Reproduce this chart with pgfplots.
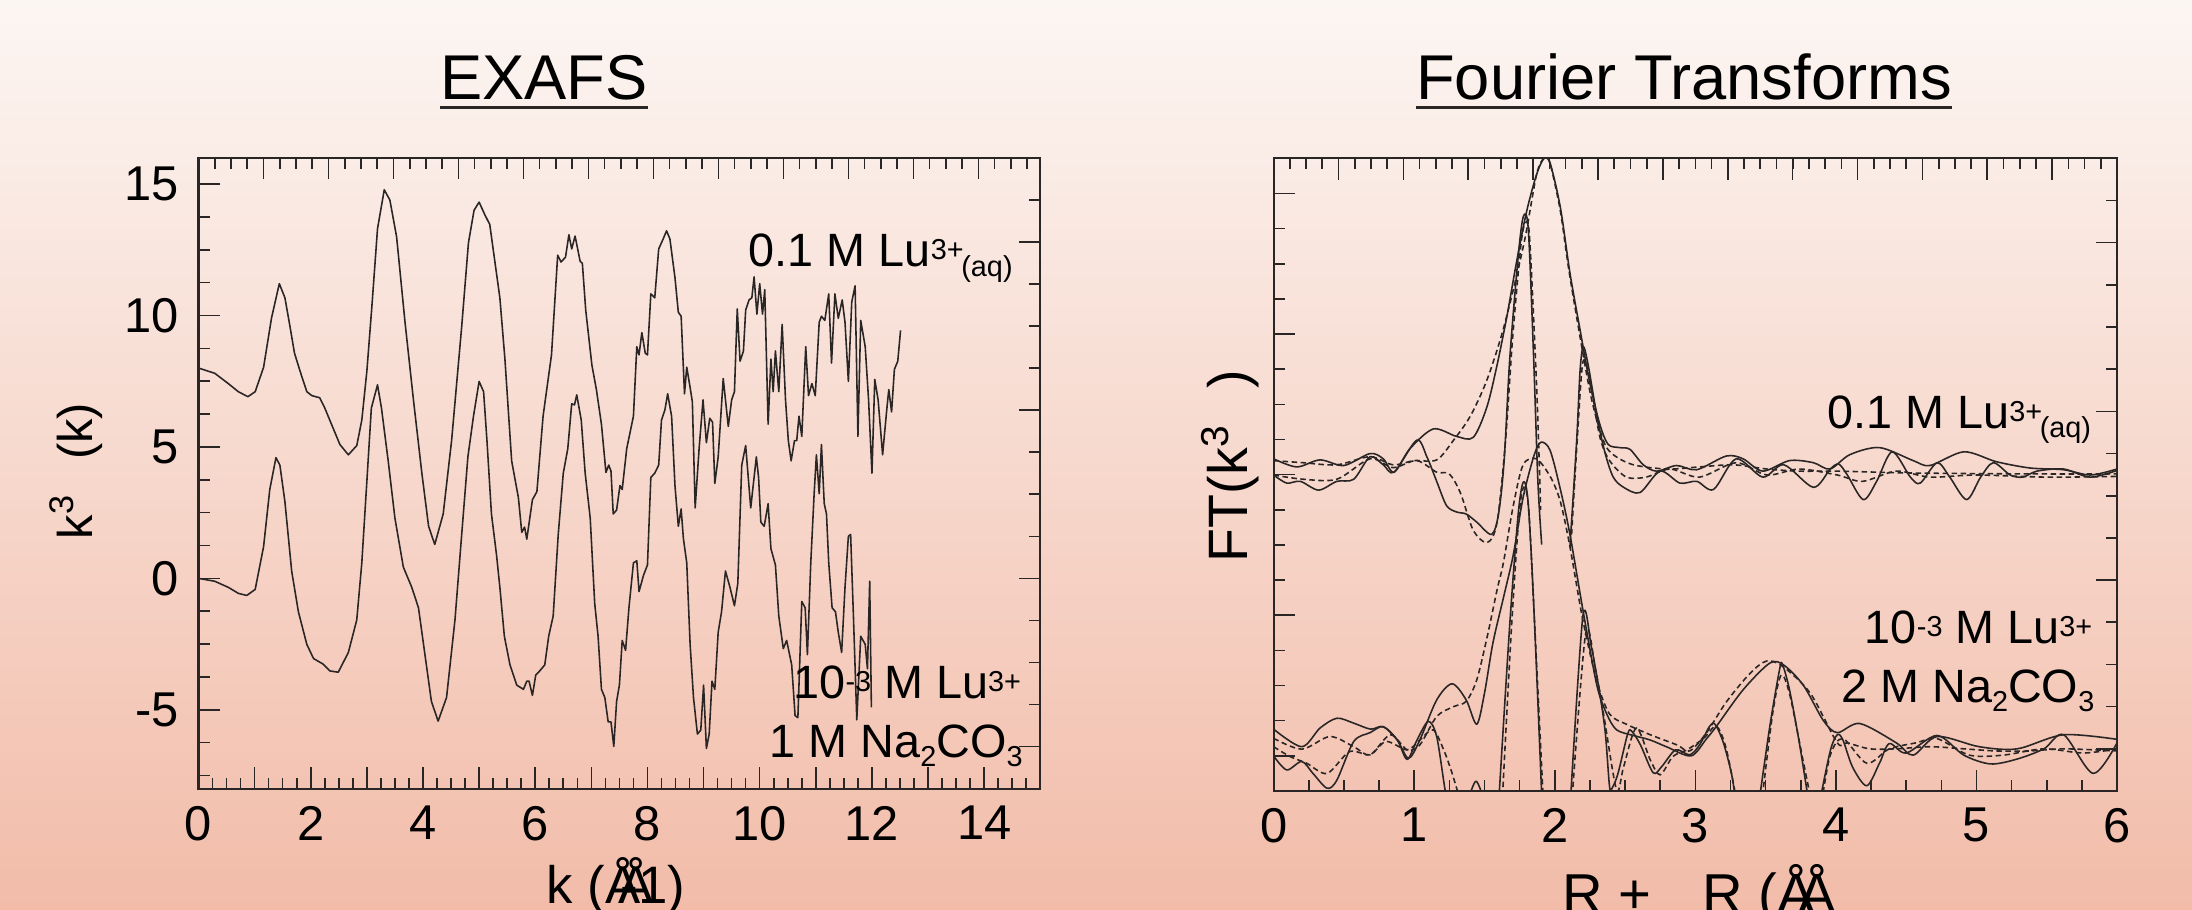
\documentclass[border=0pt]{standalone}
\usepackage{pgfplots}
\pgfplotsset{compat=1.18}
\usepackage{fontspec}
\setmainfont{Liberation Sans}
\definecolor{bgtop}{HTML}{FCF6F3}
\definecolor{bgbot}{HTML}{F2BCA9}
\definecolor{ink}{HTML}{2A2626}
\newcommand{\annfont}{\fontsize{13.3}{16}\selectfont}
\newcommand{\ssf}{\fontsize{8.2}{10}\selectfont}
\newcommand{\sups}[1]{\raisebox{0.07cm}{\ssf #1}}
\newcommand{\subs}[1]{\raisebox{-0.094cm}{\ssf #1}}
\pgfplotsset{
  frame/.style={scale only axis, anchor=south west, tick align=inside,
    axis line style={ink, line width=0.6pt},
    every tick/.style={ink, line width=0.45pt},
    major tick length=0.215cm, minor tick length=0.11cm,
    ticklabel style={font=\fontsize{13.9}{16}\selectfont, text=black},
    /pgf/number format/assume math mode=true},
  dat/.style={ink, line width=0.45pt, line join=round, no markers},
  fit/.style={ink, line width=0.45pt, no markers, dash pattern=on 0.055cm off 0.035cm},
}
\begin{document}
\begin{tikzpicture}
\shade[top color=bgtop, bottom color=bgbot] (0,0) rectangle (21.92,9.09);

% ---------------- EXAFS ----------------
\begin{axis}[frame, at={(1.985cm,1.203cm)}, width=8.418cm, height=6.31cm,
  xmin=0, xmax=15, ymin=-8, ymax=16,
  xtick={0,1,...,15}, xticklabels={0,,2,,4,,6,,8,,10,,12,,14,},
  minor xtick={0,0.25,...,15},
  ytick={-5,0,5,10,15}, yticklabels={-5,0,5,10,15},
  minor ytick={-7.5,-6.25,...,15},
  xtick pos=bottom, ytick pos=left,
  xticklabel style={yshift=-0.05cm}, yticklabel style={xshift=-0.07cm}]
\addplot[dat] coordinates {(0,8.0) (0.29,7.8) (0.53,7.41) (0.71,7.1) (0.88,6.91) (1.01,7.1) (1.16,8.03) (1.30,9.89) (1.44,11.21) (1.54,10.67) (1.63,9.58) (1.71,8.57) (1.81,7.88) (1.93,7.1) (2.02,6.95) (2.16,6.87) (2.25,6.48) (2.37,5.86) (2.52,5.09) (2.67,4.70) (2.82,5.05) (2.91,6.02) (3.0,7.88) (3.09,10.36) (3.19,13.30) (3.31,14.78) (3.41,14.39) (3.53,12.99) (3.68,9.74) (3.83,6.79) (3.98,4.0) (4.10,1.98) (4.21,1.29) (4.36,2.45) (4.51,5.24) (4.69,9.58) (4.81,12.76) (4.91,14.0) (5.0,14.31) (5.10,13.84) (5.19,13.46) (5.28,12.06) (5.37,10.67) (5.46,8.34) (5.58,4.47) (5.70,3.07) (5.76,1.75) (5.81,1.95) (5.85,1.49) (5.95,2.99) (6.03,3.30) (6.14,6.17) (6.29,8.50) (6.40,12.29) (6.46,12.03) (6.54,12.22) (6.60,13.07) (6.65,12.53) (6.71,13.02) (6.80,12.06) (6.84,11.98) (6.90,10.20) (7.01,8.11) (7.09,7.18) (7.18,5.86) (7.26,4.03) (7.31,4.31) (7.35,4.08) (7.39,2.45) (7.45,2.60) (7.51,3.53) (7.55,3.38) (7.63,4.93) (7.75,6.17) (7.81,8.81) (7.85,8.50) (7.90,9.35) (7.96,8.57) (8.00,8.50) (8.06,10.82) (8.13,10.67) (8.20,12.53) (8.28,12.91) (8.34,13.22) (8.40,12.91) (8.49,11.44) (8.55,10.12) (8.60,9.97) (8.66,7.02) (8.70,8.03) (8.76,7.26) (8.80,6.71) (8.85,2.68) (8.92,4.93) (8.99,6.79) (9.05,5.16) (9.11,6.09) (9.16,5.94) (9.20,3.61) (9.26,4.62) (9.35,7.60) (9.44,5.78) (9.50,6.79) (9.55,7.10) (9.60,10.25) (9.65,8.26) (9.71,8.65) (9.75,10.20) (9.81,10.59) (9.86,10.67) (9.90,11.47) (9.95,10.05) (10.0,11.21) (10.05,10.05) (10.09,10.98) (10.15,5.86) (10.20,8.34) (10.24,7.10) (10.28,8.65) (10.34,7.10) (10.40,9.66) (10.46,6.79) (10.51,5.24) (10.56,4.47) (10.62,5.24) (10.66,5.24) (10.70,6.17) (10.75,5.40) (10.82,8.81) (10.87,6.95) (10.93,7.41) (10.99,6.95) (11.06,9.74) (11.10,9.97) (11.16,9.81) (11.23,10.82) (11.28,8.19) (11.34,10.82) (11.40,9.89) (11.47,10.59) (11.52,9.74) (11.58,7.49) (11.64,10.51) (11.70,11.13) (11.75,5.40) (11.80,9.81) (11.88,8.81) (11.94,6.79) (12.0,4.0) (12.05,7.57) (12.11,6.79) (12.19,4.70) (12.26,6.33) (12.30,7.18) (12.35,6.33) (12.40,7.95) (12.46,8.26) (12.51,9.43)};
\addplot[dat] coordinates {(0,0) (0.29,-0.11) (0.53,-0.34) (0.71,-0.57) (0.86,-0.65) (1.01,-0.42) (1.16,1.21) (1.27,3.38) (1.38,4.59) (1.45,4.31) (1.54,2.91) (1.66,0.28) (1.78,-1.27) (1.93,-2.51) (2.05,-3.05) (2.22,-3.26) (2.34,-3.52) (2.49,-3.57) (2.67,-2.82) (2.82,-1.58) (2.91,0.59) (3.0,3.69) (3.08,6.48) (3.19,7.36) (3.26,6.48) (3.38,4.47) (3.50,2.29) (3.65,0.43) (3.80,-0.34) (3.92,-1.12) (4.04,-2.98) (4.15,-4.68) (4.27,-5.43) (4.42,-4.53) (4.57,-1.58) (4.69,1.67) (4.80,4.62) (4.90,6.17) (5.0,7.49) (5.08,7.10) (5.14,5.24) (5.22,2.45) (5.31,0.90) (5.37,-0.34) (5.45,-2.20) (5.55,-3.29) (5.67,-4.06) (5.79,-4.22) (5.85,-3.91) (5.89,-3.91) (5.95,-4.45) (6.01,-3.67) (6.08,-3.52) (6.17,-3.29) (6.24,-2.20) (6.32,-1.43) (6.41,1.67) (6.50,4.0) (6.58,4.93) (6.65,6.64) (6.70,6.60) (6.74,6.98) (6.82,6.02) (6.89,4.0) (6.98,2.29) (7.06,-0.96) (7.12,-2.20) (7.18,-4.22) (7.24,-4.53) (7.30,-5.46) (7.35,-5.46) (7.40,-6.39) (7.45,-4.68) (7.50,-4.06) (7.55,-2.36) (7.61,-2.74) (7.67,-1.12) (7.75,0.59) (7.81,0.67) (7.85,-0.50) (7.93,0.12) (8.00,0.51) (8.06,3.84) (8.13,4.0) (8.20,4.31) (8.25,6.02) (8.31,6.40) (8.36,7.02) (8.43,6.17) (8.49,3.53) (8.55,1.98) (8.60,2.64) (8.64,1.52) (8.70,0.59) (8.76,-2.51) (8.82,-4.53) (8.89,-5.92) (8.95,-5.77) (9.0,-4.06) (9.05,-6.47) (9.10,-5.92) (9.15,-3.91) (9.20,-4.22) (9.26,-2.05) (9.32,-1.27) (9.39,0.28) (9.47,-0.34) (9.55,-1.04) (9.61,-0.19) (9.68,4.31) (9.75,5.05) (9.84,2.68) (9.94,4.62) (9.98,3.84) (10.02,2.14) (10.08,1.98) (10.15,2.84) (10.20,1.13) (10.28,0.51) (10.34,-1.43) (10.42,-2.67) (10.48,-2.36) (10.57,-3.29) (10.63,-5.22) (10.68,-5.30) (10.75,-0.88) (10.81,-1.12) (10.85,-2.90) (10.91,0.59) (10.97,3.22) (11.01,4.70) (11.06,3.22) (11.10,5.09) (11.15,2.84) (11.19,2.45) (11.23,0.59) (11.29,-1.12) (11.35,-1.27) (11.40,-2.05) (11.46,-2.82) (11.52,-0.34) (11.58,1.60) (11.62,1.67) (11.67,-1.43) (11.73,-5.38) (11.80,-2.20) (11.88,-2.51) (11.92,-3.44) (11.96,-0.11) (11.99,-4.91)};
\end{axis}
\begin{axis}[frame, at={(1.985cm,1.203cm)}, width=8.418cm, height=6.31cm,
  xmin=0, xmax=15, ymin=-8, ymax=16,
  xtick={0,1.158,2.316,3.474,4.632,5.79,6.948,8.106,9.264,10.422,11.58,12.738,13.896},
  minor xtick={0,0.2895,...,15},
  ytick={-6.4,0,6.4,12.8}, minor ytick={-6.4,-4.8,...,15},
  xticklabels={}, yticklabels={}, xtick pos=top, ytick pos=right]
\end{axis}

% ---------------- Fourier transforms ----------------
\begin{axis}[frame, at={(12.736cm,1.18cm)}, width=8.434cm, height=6.327cm,
  xmin=0, xmax=6, ymin=0, ymax=18,
  xtick={0,1,...,6}, xticklabels={0,1,2,3,4,5,6}, minor xtick={0,0.25,...,6},
  ytick={1,5,9,13,17}, yticklabels={}, minor ytick={0,1,...,18},
  xtick pos=bottom, ytick pos=left, xticklabel style={yshift=-0.045cm},
  unbounded coords=jump]
% upper sample: magnitude
\addplot[dat, smooth, tension=0.5] coordinates {(0,9.45) (0.164,9.22) (0.33,9.42) (0.50,9.26) (0.686,9.60) (0.78,9.45) (0.857,9.07) (0.97,9.74) (1.136,10.30) (1.30,10.09) (1.42,10.06) (1.516,10.91) (1.587,12.07) (1.658,13.47) (1.73,15.09) (1.80,16.49) (1.87,17.53) (1.924,18.0) (1.966,17.88) (2.04,16.6) (2.108,14.74) (2.18,13.12) (2.25,11.6) (2.32,10.44) (2.38,9.86) (2.46,9.77) (2.535,9.72) (2.63,9.28) (2.725,9.10) (2.867,9.26) (3.01,9.14) (3.22,9.53) (3.34,9.45) (3.48,9.10) (3.67,9.40) (3.84,9.34) (3.958,9.16) (4.10,9.57) (4.31,9.77) (4.55,9.40) (4.67,9.26) (4.91,9.65) (5.14,9.37) (5.38,9.19) (5.62,9.14) (5.81,8.99) (6.0,9.16)};
% upper sample: imaginary part
\addplot[dat, smooth, tension=0.5] coordinates {(0,8.99) (0.093,8.76) (0.19,8.81) (0.32,8.56) (0.45,8.81) (0.57,8.87) (0.686,9.51) (0.78,9.28) (0.857,9.07) (1.018,9.98) (1.09,9.51) (1.16,8.81) (1.23,8.12) (1.30,7.94) (1.37,7.88) (1.445,7.65) (1.55,7.30) (1.60,7.88) (1.64,9.40) (1.68,12.30) (1.74,15.21) (1.777,16.35) (1.812,15.97) (1.85,12.30) (1.88,8.81) (1.907,7.01) (1.91,nan) (2.108,6.95) (2.156,9.98) (2.18,11.95) (2.203,12.65) (2.24,12.07) (2.30,10.67) (2.357,9.63) (2.416,8.93) (2.49,8.64) (2.606,8.49) (2.75,9.10) (2.89,8.76) (3.01,8.81) (3.13,8.58) (3.29,9.45) (3.48,8.93) (3.63,9.28) (3.84,8.64) (3.96,9.16) (4.02,9.3) (4.08,9.0) (4.195,8.29) (4.29,8.81) (4.40,9.65) (4.53,8.93) (4.60,8.76) (4.72,9.34) (4.81,8.93) (4.93,8.29) (5.03,8.93) (5.12,9.34) (5.24,8.99) (5.33,8.93) (5.43,9.10) (5.62,9.16) (5.81,8.93) (6.0,9.12)};
% upper sample: fits
\addplot[fit, smooth, tension=0.5] coordinates {(0,9.40) (0.21,9.34) (0.45,9.28) (0.686,9.51) (0.85,9.28) (1.0,9.40) (1.16,9.42) (1.28,9.98) (1.40,10.67) (1.52,11.72) (1.64,13.23) (1.78,15.56) (1.87,17.53) (1.924,18.0) (1.966,17.85) (2.04,16.5) (2.108,14.63) (2.25,11.37) (2.345,9.98) (2.416,9.57) (2.56,9.28) (2.80,9.16) (3.03,9.22) (3.27,9.28) (3.51,9.16) (3.74,9.10) (4.01,9.10) (4.5,9.05) (5.0,9.03) (5.5,9.02) (6.0,9.02)};
\addplot[fit, smooth, tension=0.5] coordinates {(0,8.99) (0.21,8.87) (0.45,8.87) (0.686,9.45) (0.85,9.20) (1.018,9.40) (1.16,9.07) (1.25,9.02) (1.33,8.47) (1.42,7.42) (1.52,7.07) (1.59,7.65) (1.65,9.98) (1.70,12.88) (1.76,15.56) (1.79,16.14) (1.82,15.79) (1.87,11.6) (1.90,8.0) (1.95,nan) (2.12,7.3) (2.16,10.0) (2.20,12.2) (2.25,11.7) (2.32,10.09) (2.39,9.40) (2.51,8.93) (2.65,8.93) (2.82,9.16) (3.03,8.93) (3.29,9.34) (3.51,8.99) (3.74,9.16) (4.01,8.99) (4.19,8.81) (4.43,9.10) (4.67,8.93) (5.0,8.99) (5.5,8.93) (6.0,8.95)};
% lower sample: magnitude
\addplot[dat, smooth, tension=0.5] coordinates {(0,1.76) (0.20,1.26) (0.33,1.79) (0.45,2.07) (0.57,1.93) (0.69,1.76) (0.78,1.83) (0.88,1.45) (0.96,0.93) (1.04,1.45) (1.16,2.59) (1.27,3.05) (1.37,2.59) (1.445,1.90) (1.50,2.78) (1.56,4.21) (1.635,5.5) (1.705,6.72) (1.775,8.35) (1.85,9.51) (1.90,9.92) (1.966,9.7) (2.04,8.58) (2.108,7.30) (2.203,5.09) (2.30,3.0) (2.37,2.19) (2.44,1.74) (2.56,1.58) (2.68,1.45) (2.80,1.25) (2.97,1.0) (3.08,1.49) (3.15,1.84) (3.34,2.88) (3.53,3.64) (3.63,3.58) (3.77,3.0) (3.91,2.01) (4.01,1.66) (4.17,1.92) (4.43,1.37) (4.55,1.02) (4.72,1.55) (5.02,1.26) (5.29,1.20) (5.62,1.60) (6.0,1.47)};
% lower sample: imaginary part
\addplot[dat, smooth, tension=0.5] coordinates {(0,1.0) (0.093,0.60) (0.20,0.84) (0.28,0.50) (0.38,0.08) (0.45,0.31) (0.57,1.41) (0.686,1.66) (0.78,1.83) (0.88,1.45) (0.95,0.90) (1.02,1.45) (1.10,1.98) (1.16,1.55) (1.22,0.03) (1.25,-0.4) (1.3,nan) (1.38,-0.3) (1.44,0.28) (1.50,-0.3) (1.55,nan) (1.60,-0.4) (1.68,4.74) (1.74,7.88) (1.777,8.79) (1.81,8.23) (1.85,5.33) (1.91,-0.4) (2.0,nan) (2.11,-0.4) (2.20,4.97) (2.26,4.11) (2.32,2.78) (2.36,1.64) (2.39,0.12) (2.41,0.1) (2.45,0.5) (2.52,1.64) (2.55,1.69) (2.61,1.31) (2.70,0.52) (2.76,0.69) (2.86,1.17) (2.96,1.03) (3.03,1.31) (3.10,1.83) (3.14,1.90) (3.20,1.37) (3.26,0.44) (3.29,-0.4) (3.35,nan) (3.45,-0.4) (3.53,1.84) (3.60,3.47) (3.62,3.6) (3.67,2.88) (3.74,1.37) (3.81,-0.4) (3.85,nan) (3.88,-0.4) (3.96,1.14) (4.01,1.6) (4.05,1.45) (4.12,0.67) (4.22,0.15) (4.31,0.79) (4.38,1.35) (4.50,1.08) (4.72,1.58) (4.91,1.02) (5.10,0.77) (5.29,0.91) (5.48,1.20) (5.62,1.60) (5.83,0.50) (6.0,1.37)};
% lower sample: fits
\addplot[fit, smooth, tension=0.5] coordinates {(0,1.50) (0.20,1.19) (0.40,1.55) (0.57,1.26) (0.686,1.03) (0.83,1.60) (0.95,1.17) (1.04,1.31) (1.16,2.12) (1.28,2.40) (1.37,2.55) (1.445,3.16) (1.52,4.40) (1.59,5.73) (1.635,6.5) (1.705,8.12) (1.775,9.28) (1.87,9.45) (1.97,8.93) (2.04,8.23) (2.108,6.95) (2.20,4.86) (2.30,3.12) (2.39,2.19) (2.51,1.90) (2.68,1.60) (2.87,1.31) (2.96,1.14) (3.08,1.66) (3.22,2.53) (3.39,3.35) (3.51,3.70) (3.63,3.52) (3.82,2.77) (4.01,1.37) (4.08,1.37) (4.24,1.20) (4.43,1.20) (4.67,1.26) (4.91,1.20) (5.14,1.14) (5.38,1.14) (5.62,1.20) (6.0,1.14)};
\addplot[fit, smooth, tension=0.5] coordinates {(0,1.26) (0.117,0.98) (0.235,0.79) (0.38,0.50) (0.54,1.12) (0.686,1.03) (0.80,1.41) (0.95,1.17) (1.04,1.45) (1.135,1.74) (1.21,1.17) (1.27,0.50) (1.33,-0.3) (1.4,nan) (1.625,-0.4) (1.69,4.5) (1.745,7.8) (1.78,8.64) (1.815,8.0) (1.86,4.5) (1.92,-0.4) (2.0,nan) (2.12,-0.4) (2.22,4.49) (2.29,3.45) (2.35,2.12) (2.44,0.03) (2.49,0.69) (2.58,1.79) (2.68,0.88) (2.75,0.46) (2.84,0.98) (2.94,1.17) (3.06,1.50) (3.15,1.84) (3.22,1.2) (3.30,-0.4) (3.35,nan) (3.47,-0.4) (3.55,2.2) (3.61,3.29) (3.67,2.77) (3.76,1.0) (3.83,-0.4) (3.86,nan) (3.90,-0.3) (3.96,1.02) (4.05,1.49) (4.22,0.79) (4.38,1.20) (4.57,1.37) (4.72,1.49) (4.95,1.02) (5.19,1.02) (5.48,1.20) (5.76,1.08) (6.0,1.20)};
\end{axis}
\begin{axis}[frame, at={(12.736cm,1.18cm)}, width=8.434cm, height=6.327cm,
  xmin=0, xmax=6, ymin=0, ymax=18,
  xtick={0,0.4615,0.923,1.3845,1.846,2.3075,2.769,3.2305,3.692,4.1535,4.615,5.0765,5.538},
  minor xtick={0,0.1154,...,6},
  ytick={1.2,6,10.8,15.6}, minor ytick={1.2,2.4,...,17.9},
  xticklabels={}, yticklabels={}, xtick pos=top, ytick pos=right]
\end{axis}

% ---------------- texts ----------------
\node[inner sep=0, anchor=base, font=\fontsize{18}{20}\selectfont] (t1) at (5.44,8.09) {EXAFS};
\draw[ink, line width=0.024cm] ([yshift=-0.077cm]t1.base west) -- ([yshift=-0.077cm]t1.base east);
\node[inner sep=0, anchor=base, font=\fontsize{18}{20}\selectfont] (t2) at (16.84,8.09) {Fourier Transforms};
\draw[ink, line width=0.024cm] ([yshift=-0.077cm]t2.base west) -- ([yshift=-0.077cm]t2.base east);

\node[inner sep=0, anchor=base, rotate=90, font=\fontsize{13.9}{16}\selectfont] at (0.92,4.38) {k\textsuperscript{3}\hspace{0.7em}(k)};
\node[inner sep=0, anchor=base, rotate=90, font=\fontsize{15.8}{18}\selectfont] at (12.47,4.43) {FT(k\textsuperscript{3}\hspace{0.65em})};
\node[inner sep=0, anchor=base west, font=\fontsize{15}{18}\selectfont] at (5.46,0.06) {k (Å\kern-0.42emÅ\kern-0.62em-1)};
\node[inner sep=0, anchor=base west, font=\fontsize{16}{18}\selectfont] at (15.62,-0.04) {R +\hspace{0.9em}R (Å\kern-0.3emÅ};

\node[inner sep=0, anchor=base east, font=\annfont] at (10.133,6.42) {0.1 M Lu\sups{3+}\kern-0.05em\subs{(aq)}};
\node[inner sep=0, anchor=base east, font=\annfont] at (10.217,2.11) {10\sups{-3} M Lu\sups{3+}};
\node[inner sep=0, anchor=base east, font=\annfont] at (10.233,1.52) {1 M Na\subs{2}CO\subs{3}};
\node[inner sep=0, anchor=base east, font=\annfont] at (20.917,4.81) {0.1 M Lu\sups{3+}\kern-0.05em\subs{(aq)}};
\node[inner sep=0, anchor=base east, font=\annfont] at (20.93,2.66) {10\sups{-3} M Lu\sups{3+}};
\node[inner sep=0, anchor=base east, font=\annfont] at (20.95,2.07) {2 M Na\subs{2}CO\subs{3}};

\pgfresetboundingbox
\useasboundingbox (0,0) rectangle (21.92,9.09);
\end{tikzpicture}
\end{document}
